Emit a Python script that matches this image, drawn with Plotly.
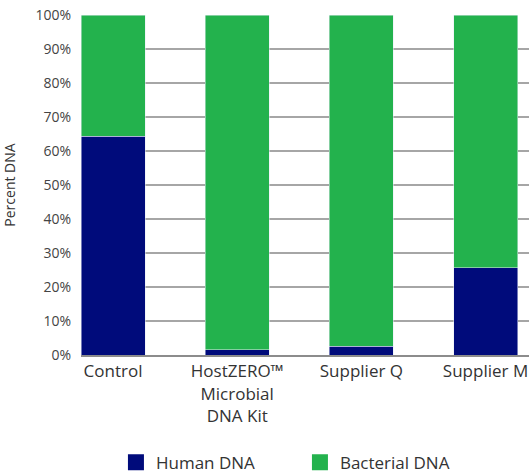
import plotly.graph_objects as go

categories = ["Control", "HostZERO™<br>Microbial<br>DNA Kit", "Supplier Q", "Supplier M"]
human_dna = [64.4, 1.5, 2.6, 25.7]
bacterial_dna = [100 - v for v in human_dna]
y_ticks = [0, 10, 20, 30, 40, 50, 60, 70, 80, 90, 100]
y_tick_labels = [f"{t}%" for t in y_ticks]

NAVY = "#000B7B"
GREEN = "#23B24D"
FONT = "'Open Sans', Lato, sans-serif"
x_idx = list(range(len(categories)))

fig = go.Figure()
fig.add_trace(go.Bar(x=x_idx, y=human_dna, name="Human DNA", marker_color=NAVY,
                     width=0.516, showlegend=False))
fig.add_trace(go.Bar(x=x_idx, y=bacterial_dna, name="Bacterial DNA", marker_color=GREEN,
                     width=0.516, showlegend=False))
# legend entries with square markers
fig.add_trace(go.Scatter(x=[None], y=[None], mode="markers", name="Human DNA",
                         marker=dict(symbol="square", size=16, color=NAVY)))
fig.add_trace(go.Scatter(x=[None], y=[None], mode="markers", name="Bacterial DNA",
                         marker=dict(symbol="square", size=16, color=GREEN)))

fig.update_layout(
    barmode="stack",
    width=529, height=474,
    margin=dict(l=81, r=0, t=15, b=119, autoexpand=False),
    plot_bgcolor="white", paper_bgcolor="white",
    font=dict(family=FONT, color="#333333"),
    hovermode=False,
    legend=dict(orientation="h", x=0.078, xanchor="left", y=-0.317, yanchor="middle",
                font=dict(size=17, color="#333333"), entrywidth=139, itemsizing="trace",
                traceorder="normal"),
    xaxis=dict(tickmode="array", tickvals=x_idx, ticktext=categories,
               range=[-0.258, 3.35], showgrid=False, showline=True, automargin=False,
               linecolor="#8c8c8c", linewidth=2, ticks="", ticklabeloverflow="allow",
               tickfont=dict(size=17, color="#333333"), fixedrange=True),
    yaxis=dict(range=[0, 100], tickmode="array", tickvals=y_ticks, ticktext=y_tick_labels,
               showgrid=True, gridcolor="#a6a6a6", gridwidth=1.5, zeroline=False,
               automargin=False, ticklabeloverflow="allow",
               tickfont=dict(size=14, color="#444444"), ticks="", ticklabelstandoff=9,
               title=dict(text="Percent DNA", font=dict(size=14, color="#333333"), standoff=20),
               fixedrange=True),
)

# remove the default page margin so the figure fills the browser window exactly
fig.write_html("out.html", config={"displayModeBar": False},
               post_script="document.body.style.margin='0';")
